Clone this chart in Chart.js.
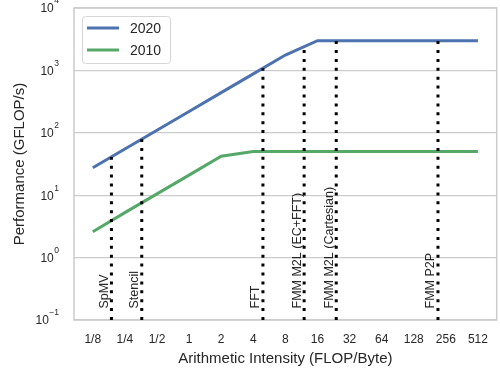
<!DOCTYPE html>
<html>
<head>
<meta charset="utf-8">
<script src="https://cdn.jsdelivr.net/npm/chart.js@4/dist/chart.umd.min.js"></script>
<style>
html, body { margin: 0; padding: 0; background: #fff; overflow: hidden; }
#wrap { width: 500px; height: 371px; }
</style>
</head>
<body>
<div id="wrap"><canvas id="roof"></canvas></div>
<script>
// roofline data, sampled at the x tick positions
const intensity = [1/8, 1/4, 1/2, 1, 2, 4, 8, 16, 32, 64, 128, 256, 512];
const xTickLabels = ['1/8', '1/4', '1/2', '1', '2', '4', '8', '16', '32', '64', '128', '256', '512'];
const perf2020 = [27.5, 55, 110, 220, 440, 880, 1760, 3000, 3000, 3000, 3000, 3000, 3000];
const perf2010 = [2.6, 5.25, 10.5, 21, 42, 50, 50, 50, 50, 50, 50, 50, 50];
const yTicks = [0.1, 1, 10, 100, 1000, 10000];
const yTickExp = ['\u22121', '0', '1', '2', '3', '4'];

// kernels (dotted markers)
const kernelNames = ['SpMV', 'Stencil', 'FFT', 'FMM M2L (EC+FFT)', 'FMM M2L (Cartesian)', 'FMM P2P'];
const kernelIntensity = [0.187, 0.36, 4.93, 12, 24, 216];
const kernelTop = [41, 79, 1085, 2400, 3000, 3000];

const textColor = '#262626';
const fontFam = '"Liberation Sans", Arial, sans-serif';

const roofSets = [
    { label: '2020', data: intensity.map((x, i) => ({ x: x, y: perf2020[i] })), borderColor: '#4C72B0' },
    { label: '2010', data: intensity.map((x, i) => ({ x: x, y: perf2010[i] })), borderColor: '#55A868' }
].map(d => Object.assign(d, { borderWidth: 3, pointRadius: 0, order: 1, tension: 0 }));

const kernelSets = kernelNames.map((name, i) => ({
    label: name,
    data: [{ x: kernelIntensity[i], y: 0.1 }, { x: kernelIntensity[i], y: kernelTop[i] }],
    borderColor: '#000',
    borderWidth: 3,
    borderDash: [3, 5.9],
    borderCapStyle: 'butt',
    pointRadius: 0,
    order: 0
}));

const framePlugin = {
    id: 'frame',
    beforeDatasetsDraw(chart) {
        const a = chart.chartArea, ctx = chart.ctx;
        ctx.save();
        ctx.strokeStyle = '#cccccc';
        ctx.lineWidth = 1.5;
        ctx.strokeRect(a.left, a.top, a.right - a.left, a.bottom - a.top);
        ctx.restore();
    }
};

const yLabelPlugin = {
    id: 'ylabels',
    afterDraw(chart) {
        const ctx = chart.ctx, ys = chart.scales.y;
        ctx.save();
        ctx.fillStyle = textColor;
        yTicks.forEach((v, i) => {
            const py = ys.getPixelForValue(v);
            ctx.font = '8.5px ' + fontFam;
            const ew = ctx.measureText(yTickExp[i]).width;
            ctx.textAlign = 'right';
            ctx.textBaseline = 'middle';
            ctx.fillText(yTickExp[i], 59, py - 7);
            ctx.font = '12px ' + fontFam;
            ctx.fillText('10', 59 - ew - 0.5, py + 1);
        });
        ctx.restore();
    }
};

const kernelLabelPlugin = {
    id: 'kernelLabels',
    afterDatasetsDraw(chart) {
        const ctx = chart.ctx, xs = chart.scales.x, ys = chart.scales.y;
        ctx.save();
        ctx.fillStyle = textColor;
        ctx.font = '12.5px ' + fontFam;
        ctx.textAlign = 'left';
        ctx.textBaseline = 'alphabetic';
        kernelNames.forEach((name, i) => {
            const px = xs.getPixelForValue(kernelIntensity[i]);
            const py = ys.getPixelForValue(0.153);
            ctx.save();
            ctx.translate(px - 3.5, py);
            ctx.rotate(-Math.PI / 2);
            ctx.fillText(name, 0, 0);
            ctx.restore();
        });
        ctx.restore();
    }
};

const legendPlugin = {
    id: 'boxLegend',
    afterDraw(chart) {
        const ctx = chart.ctx;
        ctx.save();
        ctx.fillStyle = 'rgba(255,255,255,0.85)';
        ctx.strokeStyle = '#d6d6d6';
        ctx.lineWidth = 1;
        ctx.beginPath();
        if (ctx.roundRect) ctx.roundRect(82.5, 16.5, 88, 47, 3);
        else ctx.rect(82.5, 16.5, 88, 47);
        ctx.fill();
        ctx.stroke();
        ctx.font = '14px ' + fontFam;
        ctx.textAlign = 'left';
        ctx.textBaseline = 'middle';
        roofSets.forEach((d, i) => {
            const y = 28 + i * 22;
            ctx.strokeStyle = d.borderColor;
            ctx.lineWidth = 3;
            ctx.beginPath();
            ctx.moveTo(87, y);
            ctx.lineTo(119, y);
            ctx.stroke();
            ctx.fillStyle = textColor;
            ctx.fillText(d.label, 130, y + 1);
        });
        ctx.restore();
    }
};

new Chart(document.getElementById('roof'), {
    type: 'line',
    data: { datasets: roofSets.concat(kernelSets) },
    options: {
        responsive: true,
        maintainAspectRatio: false,
        animation: false,
        layout: { padding: { top: 8, right: 1, left: 0, bottom: 0 } },
        plugins: { legend: { display: false }, tooltip: { enabled: false } },
        scales: {
            x: {
                type: 'logarithmic',
                min: 1/12,
                max: 768,
                afterBuildTicks: s => { s.ticks = intensity.map(v => ({ value: v })); },
                afterFit: s => { s.height = 51; },
                grid: { display: false, drawTicks: false },
                border: { display: false },
                ticks: {
                    autoSkip: false,
                    maxRotation: 0,
                    padding: 12,
                    color: textColor,
                    font: { family: fontFam, size: 12 },
                    callback: (v, i) => xTickLabels[i]
                },
                title: {
                    display: true,
                    text: 'Arithmetic Intensity (FLOP/Byte)',
                    color: textColor,
                    font: { family: fontFam, size: 15, lineHeight: 1.2 },
                    padding: { top: 0, bottom: 2.7 }
                }
            },
            y: {
                type: 'logarithmic',
                min: 0.1,
                max: 10000,
                afterBuildTicks: s => { s.ticks = yTicks.map(v => ({ value: v })); },
                afterFit: s => { s.width = 74; },
                grid: { color: '#cccccc', lineWidth: 1.2, drawTicks: false },
                border: { display: false },
                ticks: { display: false },
                title: {
                    display: true,
                    text: 'Performance (GFLOP/s)',
                    color: textColor,
                    font: { family: fontFam, size: 15, lineHeight: 1.2 },
                    padding: { top: 11, bottom: 0 }
                }
            }
        }
    },
    plugins: [framePlugin, yLabelPlugin, kernelLabelPlugin, legendPlugin]
});
</script>
</body>
</html>
